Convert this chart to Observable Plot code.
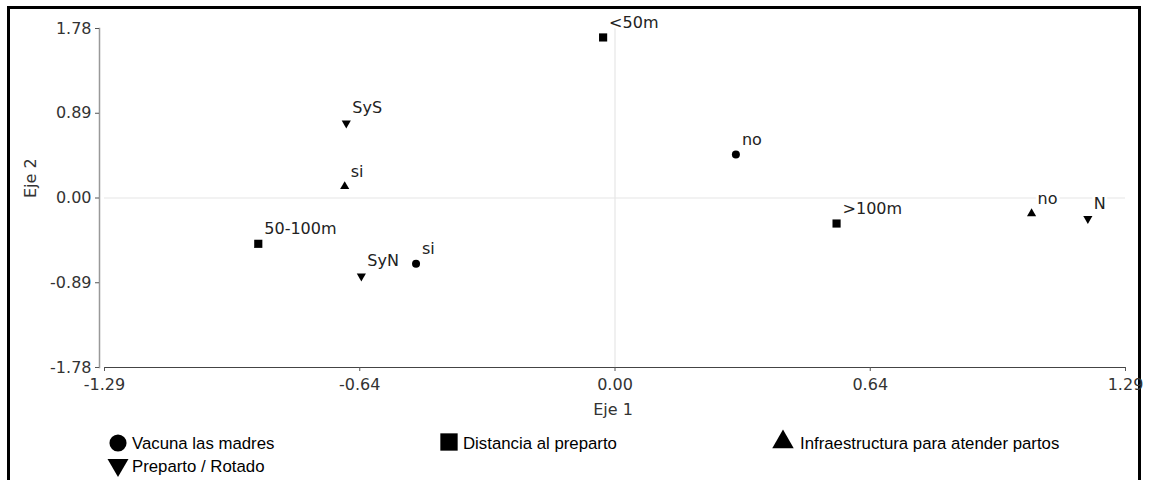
<!DOCTYPE html>
<html>
<head>
<meta charset="utf-8">
<script src="https://cdn.jsdelivr.net/npm/d3@7"></script>
<script src="https://cdn.jsdelivr.net/npm/@observablehq/plot@0.6"></script>
<style>
  html, body { margin: 0; padding: 0; background: #fff; }
  body { width: 1150px; height: 480px; overflow: hidden; position: relative; }
  #frame { position: absolute; left: 7px; top: 6px; width: 1128px; height: 600px; border: 3px solid #000; }
  #chart { position: absolute; left: 0; top: 0; }
  #legend { position: absolute; left: 0; top: 420px; }
</style>
</head>
<body>
<div id="frame"></div>
<div id="chart"></div>
<svg id="legend" width="1150" height="60"></svg>
<script>
// ---- data ----
const labels = ["no", "si", "<50m", "50-100m", ">100m", "si", "no", "SyS", "SyN", "N"];
const groups = [
  "Vacuna las madres", "Vacuna las madres",
  "Distancia al preparto", "Distancia al preparto", "Distancia al preparto",
  "Infraestructura para atender partos", "Infraestructura para atender partos",
  "Preparto / Rotado", "Preparto / Rotado", "Preparto / Rotado"
];
const eje1 = [0.305, -0.502, -0.030, -0.900, 0.559, -0.682, 1.051, -0.678, -0.640, 1.193];
const eje2 = [0.457, -0.691, 1.686, -0.481, -0.268, 0.121, -0.163, 0.786, -0.821, -0.218];
const legendGroups = ["Vacuna las madres", "Distancia al preparto", "Infraestructura para atender partos", "Preparto / Rotado"];
const xTicks = [-1.288, -0.644, 0, 0.644, 1.288];
const yTicks = [-1.78, -0.89, 0, 0.89, 1.78];
const xTitle = "Eje 1";
const yTitle = "Eje 2";

const data = labels.map((label, i) => ({label, group: groups[i], x: eje1[i], y: eje2[i]}));

const symbolRange = ["circle", "square", "triangle", "triangle"];
const symbolR = {"Vacuna las madres": 4, "Distancia al preparto": 4.6, "Infraestructura para atender partos": 3.4, "Preparto / Rotado": 3.4};
const rotation = {"Vacuna las madres": 0, "Distancia al preparto": 0, "Infraestructura para atender partos": 0, "Preparto / Rotado": 180};

const fmt = d => d.toFixed(2);

const chart = Plot.plot({
  width: 1150,
  height: 420,
  marginLeft: 99,
  marginRight: 24,
  marginTop: 28,
  marginBottom: 53,
  style: {fontFamily: "'DejaVu Sans', sans-serif", fontSize: "16px", color: "#333", background: "transparent", overflow: "visible"},
  x: {domain: [-1.288, 1.288], range: [104, 1125]},
  y: {domain: [-1.78, 1.78], range: [367, 28]},
  symbol: {domain: legendGroups, range: symbolRange},
  marks: [
    Plot.ruleX([0], {stroke: "#e6e6e6", strokeWidth: 1.2}),
    Plot.ruleY([0], {x1: -1.288, x2: 1.288, stroke: "#e6e6e6", strokeWidth: 1.2}),
    Plot.frame({anchor: "left", stroke: "#999", strokeWidth: 1.5}),
    Plot.ruleY([-1.78], {x1: -1.288, x2: 1.288, stroke: "#444", strokeWidth: 1.2}),
    Plot.axisX(xTicks, {tickSize: 4, tickPadding: 7, tickFormat: fmt, label: null, stroke: "#555"}),
    Plot.axisY(yTicks, {tickSize: 4, tickPadding: 4, tickFormat: fmt, label: null, stroke: "#555"}),
    Plot.text([xTitle], {frameAnchor: "bottom", dy: 47, fill: "#333"}),
    Plot.text([yTitle], {frameAnchor: "left", dx: -69, rotate: -90, fill: "#333"}),
    ...legendGroups.map(g => Plot.dot(data, {
      filter: d => d.group === g,
      x: "x", y: "y", symbol: "group",
      r: symbolR[g], rotate: rotation[g],
      fill: "#000", stroke: "none"
    })),
    Plot.text(data, {
      x: "x", y: "y", text: "label",
      dx: 6, dy: -15, textAnchor: "start",
      fill: "#222", stroke: "white", strokeWidth: 6
    })
  ]
});
document.getElementById("chart").appendChild(chart);

// ---- legend ----
const legendPos = [
  {sx: 118, sy: 23, tx: 132, ty: 29},
  {sx: 449, sy: 22, tx: 463, ty: 29},
  {sx: 783, sy: 22, tx: 800, ty: 29},
  {sx: 118, sy: 45, tx: 132, ty: 52}
];
const legendSymbols = [d3.symbolCircle, d3.symbolSquare, d3.symbolTriangle, d3.symbolTriangle];
const legendSizes = [230, 300, 200, 190];
const legendRot = [0, 0, 0, 180];
const lg = d3.select("#legend");
legendGroups.forEach((g, i) => {
  const p = legendPos[i];
  lg.append("path")
    .attr("d", d3.symbol(legendSymbols[i], legendSizes[i])())
    .attr("transform", `translate(${p.sx},${p.sy}) rotate(${legendRot[i]})`)
    .attr("fill", "#000");
  lg.append("text")
    .attr("x", p.tx).attr("y", p.ty)
    .attr("font-family", "'Liberation Sans', Arial, sans-serif")
    .attr("font-size", 16.8)
    .attr("fill", "#000")
    .text(g);
});
</script>
</body>
</html>
